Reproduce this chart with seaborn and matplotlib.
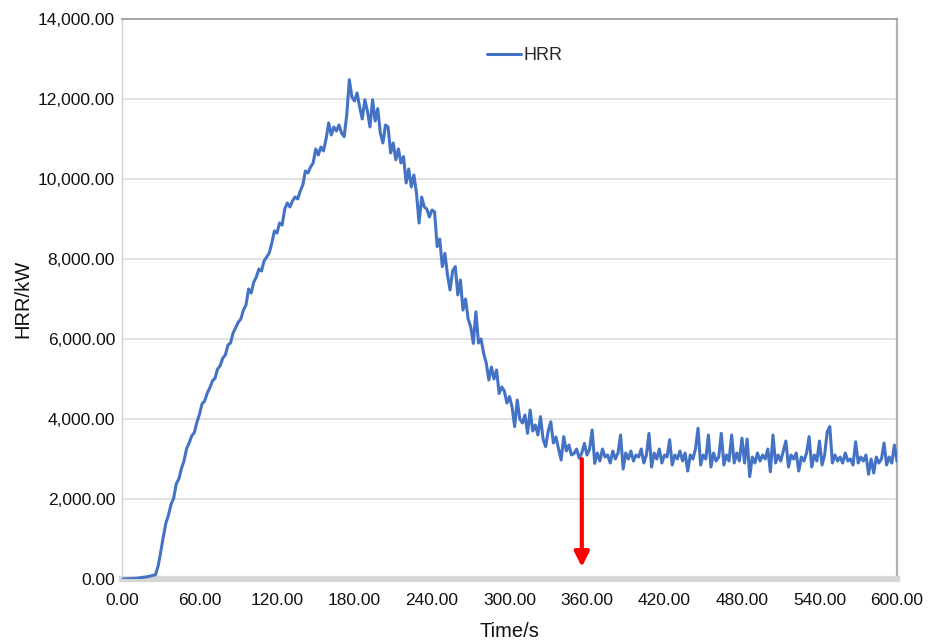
import matplotlib
matplotlib.use('Agg')
import matplotlib.pyplot as plt
import matplotlib.ticker as mticker
import seaborn as sns
import numpy as np
import pandas as pd

# HRR readings (kW), one every 2 s from 0 s to 600 s
hrr_ignition = [0, 0, 5, 5, 10, 15, 20, 30, 40, 50, 60, 75, 90, 110]  # 0-26 s
hrr_rise = [330, 680, 1060, 1400, 1600, 1870, 2020, 2380, 2500, 2760,
            2950, 3260, 3400, 3580, 3660, 3920, 4120, 4380]  # 28-62 s
hrr_growth = [4450, 4650, 4780, 4950, 5020, 5250, 5330, 5520, 5600, 5850,
              5900, 6150, 6280, 6420, 6500, 6720, 6850, 7250, 7150, 7420,
              7550, 7750, 7700, 7950, 8050, 8150, 8400, 8700, 8650, 8900,
              8850, 9250, 9400, 9300, 9450, 9550, 9500, 9700, 9850]  # 64-140 s
hrr_near_peak = [10200, 10150, 10300, 10400, 10750, 10600, 10800, 10700,
                 11000, 11400, 11100, 11300, 11200, 11350]  # 142-168 s
hrr_decay = [11150, 11060, 11600, 12480, 12050, 11950, 12150, 11800, 11500, 11980,
             11700, 11300, 11980, 11450, 11760, 11150, 10900, 11350, 11300, 10650,
             10900, 10480, 10750, 10400, 10560, 9900, 10250, 9800, 10100, 9650,
             8900, 9550, 9300, 9250, 9050, 9225, 9180, 8310, 8500, 7810,
             8140, 7600, 7225, 7700, 7810, 7100, 7475, 6725, 7000, 6500,
             6300, 5890, 6680, 5900, 6000, 5640, 5400, 4975, 5300, 5000,
             5225, 4640, 4800, 4700, 4400, 4560, 4300, 3810, 4475, 4000,
             3900, 4100, 3640, 4225, 3700, 3850, 3600, 4060, 3500, 3310,
             3700, 3930, 3400, 3550, 3250, 2975, 3560, 3200, 3350, 3100,
             3140, 3250, 3020, 3150, 3390, 3100, 3250, 3725, 2890]  # 170-366 s
hrr_steady = [3150, 2950, 3250, 3050, 3100, 2900, 3200, 3000, 3150, 3600,
              2750, 3150, 3000, 3200, 2950, 3100, 3050, 3250, 2900, 3100,
              3640, 2800, 3150, 3000, 3250, 2900, 3100, 3050, 3480, 2850,
              3100, 3000, 3200, 2950, 3150, 2700, 3100, 3000, 3250, 3770,
              2850, 3100, 3000, 3600, 2800, 3150, 2950, 3050, 3640, 2850,
              3100, 2950, 3600, 2900, 3150, 2950, 3520, 2900, 3500, 2560,
              3050, 2900, 3150, 2950, 3100, 3000, 3250, 2680, 3600, 2900,
              3100, 2950, 3200, 3450, 2800, 3100, 3000, 3150, 2700, 3050,
              2950, 3150, 3560, 2800, 3100, 2950, 3450, 2850, 3100, 3680,
              3810, 2900, 3100, 2950, 3050, 2900, 3150, 2950, 3000, 2850,
              3430, 2900, 3050, 2950, 3100, 2620, 3000, 2650, 3050, 2900,
              3000, 3400, 2850, 3050, 2900, 3350, 2950]  # 368-600 s

hrr = (hrr_ignition + hrr_rise + hrr_growth + hrr_near_peak
       + hrr_decay + hrr_steady)
time_s = np.arange(0, 2 * len(hrr), 2)

x_ticks = [0, 60, 120, 180, 240, 300, 360, 420, 480, 540, 600]
y_ticks = [0, 2000, 4000, 6000, 8000, 10000, 12000, 14000]

# red arrow marking the start of the steady phase
arrow_time = 356
arrow_top = 3000
arrow_bottom = 300

df = pd.DataFrame({'Time/s': time_s, 'HRR/kW': hrr})

sns.set_theme(style='white')
plt.rcParams['font.family'] = ['Liberation Sans', 'DejaVu Sans']

fig = plt.figure(figsize=(9.32, 6.43), dpi=100)
ax = fig.add_axes([0.1309, 0.0995, 0.8315, 0.871])

sns.lineplot(data=df, x='Time/s', y='HRR/kW', ax=ax, color='#4472C4',
             linewidth=2.2, label='HRR', zorder=3)

ax.annotate('', xy=(arrow_time, arrow_bottom), xytext=(arrow_time, arrow_top),
            arrowprops=dict(arrowstyle='-|>', color='#ff0000', lw=3,
                            mutation_scale=22, shrinkA=0, shrinkB=0))

ax.set_xlim(0, 600)
ax.set_ylim(0, 14000)
ax.set_xticks(x_ticks)
ax.set_yticks(y_ticks)
ax.xaxis.set_major_formatter(mticker.FuncFormatter(lambda v, p: f'{v:.2f}'))
ax.yaxis.set_major_formatter(mticker.FuncFormatter(lambda v, p: f'{v:,.2f}'))
ax.tick_params(axis='x', length=0, pad=10, labelsize=12.5, colors='#111111')
ax.tick_params(axis='y', length=0, pad=5, labelsize=12.5, colors='#111111')

ax.yaxis.grid(True, color='#dcdcdc', linewidth=1.2)
ax.xaxis.grid(False)
ax.set_axisbelow(True)

ax.spines['top'].set_color('#a0a0a0')
ax.spines['top'].set_linewidth(1.3)
ax.spines['right'].set_color('#b0b0b0')
ax.spines['right'].set_linewidth(1.6)
ax.spines['left'].set_color('#d0d0d0')
ax.spines['left'].set_linewidth(1)
ax.spines['bottom'].set_color('#d6d6d6')
ax.spines['bottom'].set_linewidth(4.5)

ax.set_xlabel('Time/s', fontsize=14.5, color='#111111', labelpad=10)
ax.set_ylabel('HRR/kW', fontsize=14.5, color='#111111', labelpad=4)

ax.legend(loc='center', bbox_to_anchor=(0.52, 0.934), frameon=False,
          fontsize=13, handlelength=1.9, handletextpad=0.15)

fig.savefig('out.png', dpi=100)
